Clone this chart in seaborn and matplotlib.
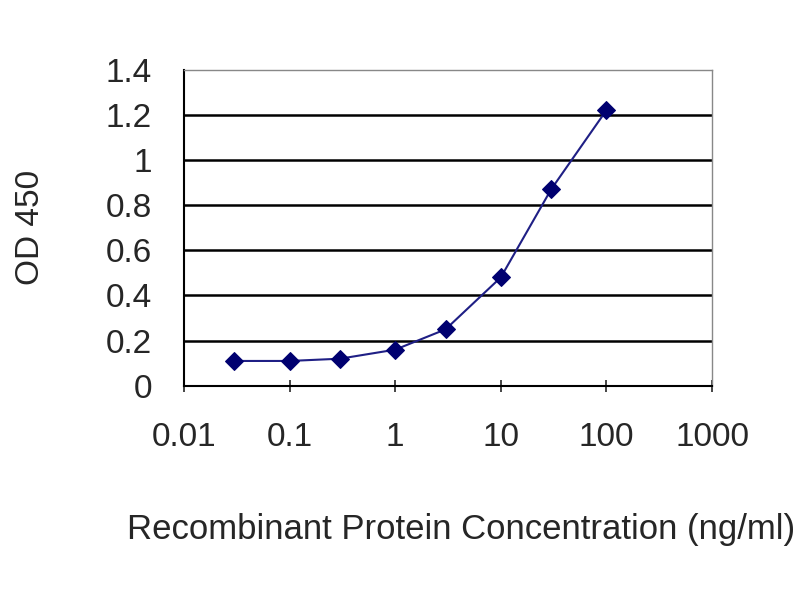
import matplotlib
matplotlib.use("Agg")
import matplotlib.pyplot as plt
import seaborn as sns
import pandas as pd

# concentration (ng/ml) and OD 450 readings
concentration = [0.03, 0.1, 0.3, 1, 3, 10, 30, 100]
od450 = [0.11, 0.11, 0.12, 0.16, 0.25, 0.48, 0.87, 1.22]

x_ticks = [0.01, 0.1, 1, 10, 100, 1000]
x_tick_labels = ["0.01", "0.1", "1", "10", "100", "1000"]
y_ticks = [0, 0.2, 0.4, 0.6, 0.8, 1, 1.2, 1.4]
y_tick_labels = ["0", "0.2", "0.4", "0.6", "0.8", "1", "1.2", "1.4"]

df = pd.DataFrame({"conc": concentration, "od": od450})

sns.set_style("white")
plt.rcParams["font.family"] = ["Liberation Sans", "DejaVu Sans"]

fig = plt.figure(figsize=(8, 6), dpi=100)
ax = fig.add_axes([0.23, 0.357, 0.66, 0.527])

sns.lineplot(data=df, x="conc", y="od", ax=ax, color="#1f1f85", linewidth=1.5,
             marker="D", markersize=9, markerfacecolor="#000070",
             markeredgecolor="#000070", zorder=3)

ax.set_xscale("log")
ax.set_xlim(0.01, 1000)
ax.set_ylim(0, 1.4)
ax.set_xticks(x_ticks)
ax.set_xticklabels(x_tick_labels)
ax.minorticks_off()
ax.set_yticks(y_ticks)
ax.set_yticklabels(y_tick_labels)

# horizontal gridlines like the Excel chart
for yv in y_ticks[1:-1]:
    ax.axhline(yv, color="black", linewidth=1.8, zorder=1)

for side in ["left", "bottom"]:
    ax.spines[side].set_color("black")
    ax.spines[side].set_linewidth(1.5)
for side in ["top", "right"]:
    ax.spines[side].set_color("#888888")
    ax.spines[side].set_linewidth(1.0)

ax.tick_params(axis="x", direction="inout", length=8, width=1.2, labelsize=24, pad=22, bottom=True)
ax.tick_params(axis="y", direction="in", length=0, labelsize=24, pad=23)

ax.set_xlabel("Recombinant Protein Concentration (ng/ml)", fontsize=25, labelpad=43)
ax.xaxis.label.set_x(0.525)
ax.set_ylabel("OD 450", fontsize=24, labelpad=43)

fig.savefig("out.png", dpi=100)
